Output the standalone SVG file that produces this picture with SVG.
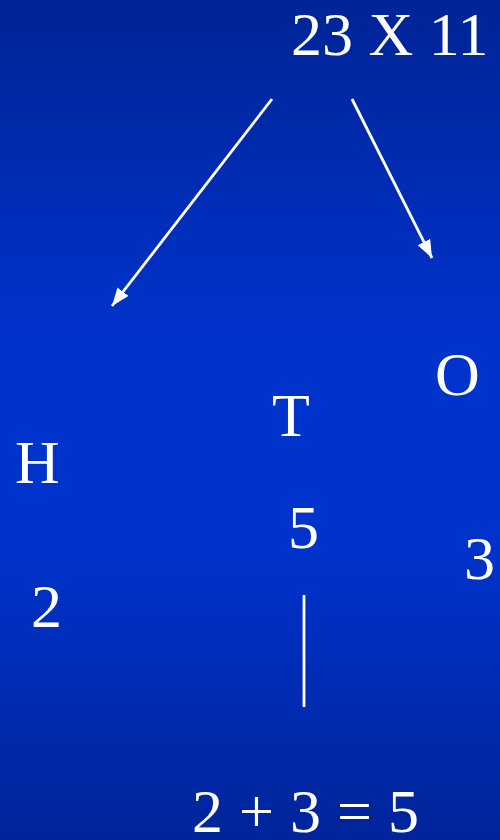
<svg xmlns="http://www.w3.org/2000/svg" width="500" height="840" viewBox="0 0 500 840">
  <defs>
    <linearGradient id="bg" x1="0" y1="0" x2="0" y2="1">
      <stop offset="0" stop-color="#002496"/>
      <stop offset="0.4" stop-color="#0033cc"/>
      <stop offset="0.65" stop-color="#0033cc"/>
      <stop offset="1" stop-color="#00249a"/>
    </linearGradient>
    <marker id="ah" viewBox="0 0 18 14" refX="18" refY="7" markerWidth="18" markerHeight="14" markerUnits="userSpaceOnUse" orient="auto">
      <path d="M0,0 L18,7 L0,14 z" fill="#ffffff"/>
    </marker>
    <style>
      .t { font-family: "Liberation Serif", "Times New Roman", serif; font-size: 62px; fill: #ffffff; }
      .c { stroke: #ffffff; stroke-width: 2.8; fill: none; }
    </style>
  </defs>
  <rect x="0" y="0" width="500" height="840" fill="url(#bg)"/>
  <g id="top"><text class="t" x="291" y="55">23 X 11</text></g>
  <g id="H"><text class="t" x="15" y="483">H</text></g>
  <g id="T"><text class="t" x="272" y="436">T</text></g>
  <g id="O"><text class="t" x="435" y="395">O</text></g>
  <g id="n5"><text class="t" x="288" y="548">5</text></g>
  <g id="n3"><text class="t" x="464" y="579">3</text></g>
  <g id="n2"><text class="t" x="31" y="627">2</text></g>
  <g id="sum"><text class="t" x="192" y="832" word-spacing="0.5">2 + 3 = 5</text></g>
  <g id="connectors">
    <line class="c" x1="272" y1="99" x2="112" y2="306" marker-end="url(#ah)"/>
    <line class="c" x1="352" y1="99" x2="432" y2="258" marker-end="url(#ah)"/>
    <line class="c" x1="304" y1="595" x2="304" y2="707"/>
  </g>
</svg>
